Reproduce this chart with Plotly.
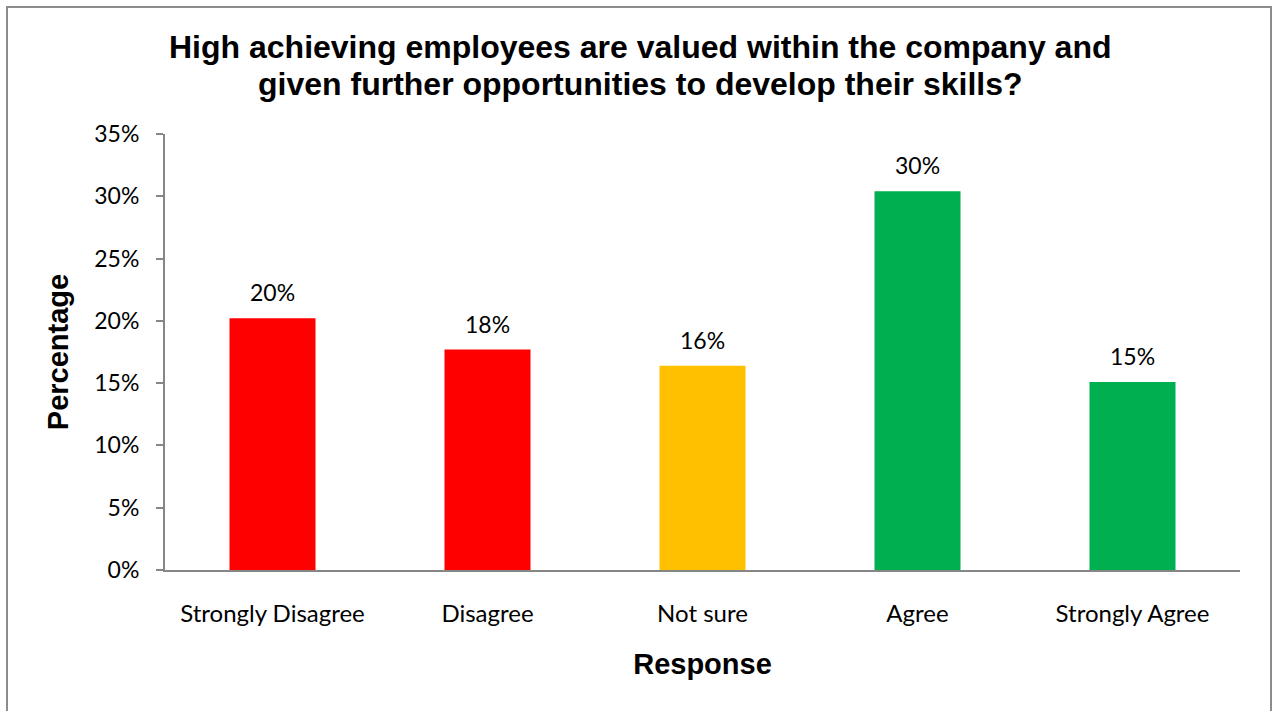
import plotly.graph_objects as go

# Survey responses
categories = ["Strongly Disagree", "Disagree", "Not sure", "Agree", "Strongly Agree"]
percentages = [20.2, 17.7, 16.4, 30.4, 15.1]
bar_colors = ["#FF0000", "#FF0000", "#FFC000", "#00B050", "#00B050"]
y_ticks = [0, 5, 10, 15, 20, 25, 30, 35]
y_tick_labels = [f"{v}%" for v in y_ticks]
title_lines = [
    "High achieving employees are valued within the company and",
    "given further opportunities to develop their skills?",
]

W, H = 1274, 711
ML, MR, MT, MB = 165, 34, 134, 141
PW, PH = W - ML - MR, H - MT - MB

tick_font = dict(family="Lato", size=23, color="#000000")
bold_font = "Liberation Sans"


def px_x(p):
    return (p - ML) / PW


def px_y(p):
    return 1 - (p - MT) / PH


fig = go.Figure()
fig.add_trace(go.Bar(
    x=categories,
    y=percentages,
    marker=dict(color=bar_colors, line=dict(width=0)),
    width=0.4,
    hoverinfo="skip",
))

# Value labels above each bar
for cat, val in zip(categories, percentages):
    fig.add_annotation(
        x=cat, y=val, text=f"{round(val)}%",
        showarrow=False, yanchor="bottom", yshift=10,
        font=tick_font,
    )

# Two-line chart title
for line, ypix in zip(title_lines, [47, 84]):
    fig.add_annotation(
        xref="paper", yref="paper",
        x=px_x(640), y=px_y(ypix),
        xanchor="center", yanchor="middle",
        text=f"<b>{line}</b>", showarrow=False,
        font=dict(family=bold_font, size=32, color="#000000"),
    )

# Outer chart border
fig.add_shape(
    type="rect", xref="paper", yref="paper",
    x0=px_x(7), x1=px_x(1271), y0=px_y(716), y1=px_y(7),
    line=dict(color="#8C8C8C", width=2), fillcolor="rgba(0,0,0,0)",
    layer="below",
)

fig.update_layout(
    width=W, height=H,
    margin=dict(l=ML, r=MR, t=MT, b=MB),
    paper_bgcolor="#FFFFFF",
    plot_bgcolor="#FFFFFF",
    showlegend=False,
    xaxis=dict(
        showline=True, linecolor="#868686", linewidth=2,
        ticks="", tickfont=dict(family="Lato", size=24, color="#000000"),
        ticklabelstandoff=21,
        showgrid=False, zeroline=False,
        title=dict(text="<b>Response</b>", font=dict(family=bold_font, size=29, color="#000000"), standoff=28),
        fixedrange=True,
    ),
    yaxis=dict(
        range=[0, 35],
        tickvals=y_ticks, ticktext=y_tick_labels,
        showline=True, linecolor="#868686", linewidth=2,
        ticks="outside", ticklen=7, tickcolor="#868686", tickwidth=2,
        tickfont=tick_font, ticklabelstandoff=12,
        showgrid=False, zeroline=False,
        title=dict(text="<b>Percentage</b>", font=dict(family=bold_font, size=29, color="#000000"), standoff=17),
        fixedrange=True,
    ),
)

fig.write_html("out.html")
